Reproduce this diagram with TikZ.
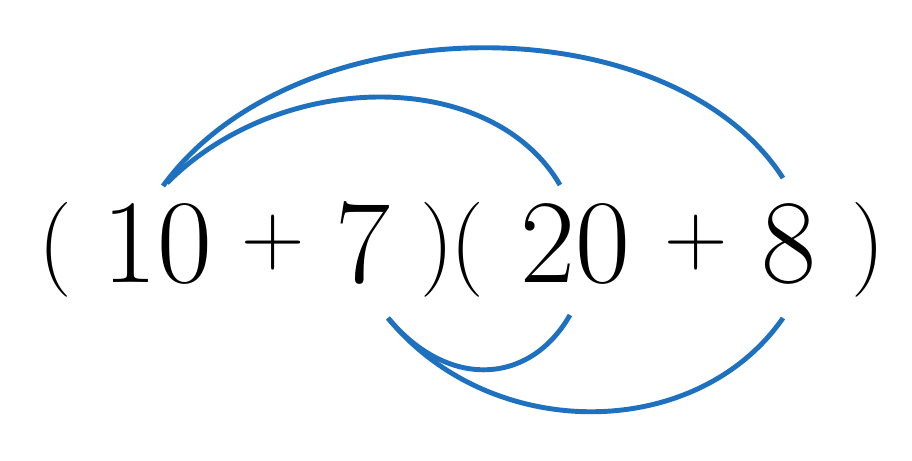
\documentclass[tikz,border=0pt]{standalone}
\usepackage{tikz}
\definecolor{arcblue}{RGB}{30,113,190}
\tikzset{
  term/.style = {inner sep=0pt, anchor=base, font=\fontsize{68}{70}\selectfont},
  op/.style = {inner sep=0pt, anchor=center, font=\fontsize{50}{52}\selectfont},
  par/.style = {inner sep=0pt, anchor=center, font=\fontsize{54}{56}\selectfont},
  link/.style = {draw=arcblue, line width=2.8pt}
}
\begin{document}
\begin{tikzpicture}[x=0.02cm, y=-0.02cm]
  \useasboundingbox (0,0) rectangle (912,460);
  % first factor
  \node [par]  (lpA)    at (55,250)  {(};
  \node [term] (ten)    at (157,282) {10};
  \node [op]   (plusA)  at (273,243) {+};
  \node [term] (seven)  at (363,282) {7};
  \node [par]  (rpA)    at (437,250) {)};
  % second factor
  \node [par]  (lpB)    at (467,250) {(};
  \node [term] (twenty) at (575,282) {20};
  \node [op]   (plusB)  at (696,243) {+};
  \node [term] (eight)  at (789,282) {8};
  \node [par]  (rpB)    at (868,250) {)};
  % arc ends
  \coordinate (tenA)    at (167,183);
  \coordinate (tenB)    at (163,186);
  \coordinate (twentyT) at (560,185);
  \coordinate (eightT)  at (783,178);
  \coordinate (sevenB)  at (388,318);
  \coordinate (twentyB) at (570,315);
  \coordinate (eightB)  at (783,318);
  % upper arcs
  \draw [link] (tenA) .. controls (282,68) and (492,68) .. (twentyT);
  \draw [link] (tenB) .. controls (296,3) and (670,3) .. (eightT);
  % lower arcs
  \draw [link] (sevenB) .. controls (448,390) and (530,385) .. (twentyB);
  \draw [link] (sevenB) .. controls (490,443) and (696,443) .. (eightB);
\end{tikzpicture}
\end{document}
